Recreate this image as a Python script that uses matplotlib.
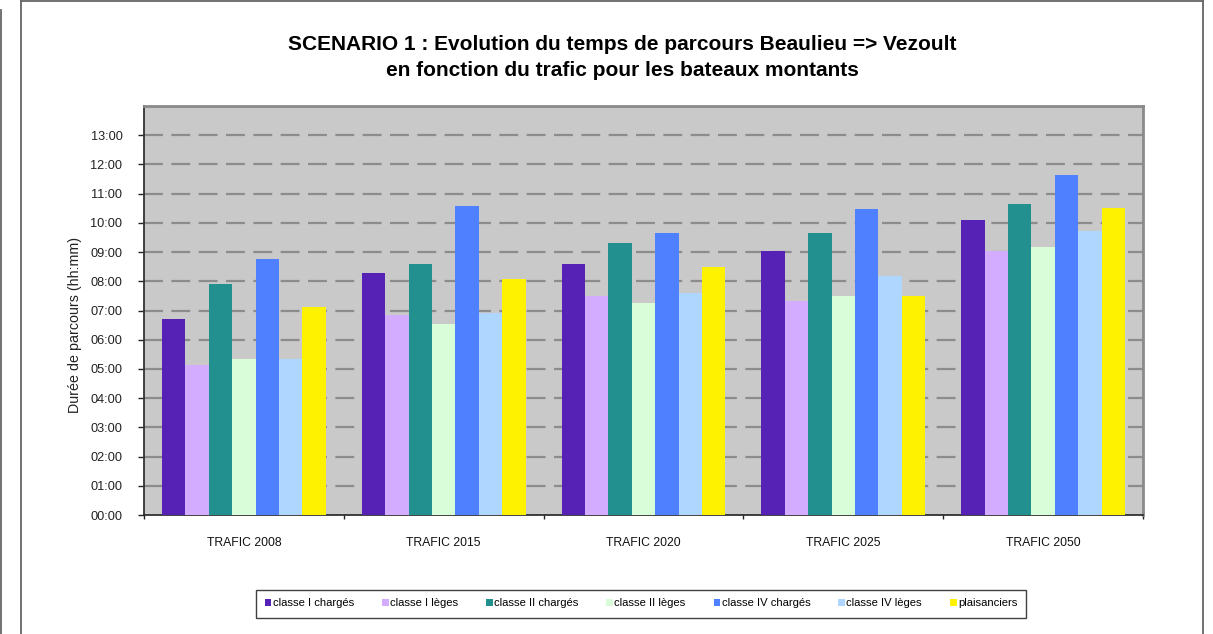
import matplotlib
matplotlib.use("Agg")
import matplotlib.pyplot as plt
from matplotlib.lines import Line2D
from matplotlib.patches import Patch
import numpy as np

plt.rcParams["font.family"] = ["Liberation Sans", "DejaVu Sans"]

categories = ["TRAFIC 2008", "TRAFIC 2015", "TRAFIC 2020", "TRAFIC 2025", "TRAFIC 2050"]
series_names = [
    "classe I chargés", "classe I lèges", "classe II chargés", "classe II lèges",
    "classe IV chargés", "classe IV lèges", "plaisanciers",
]
# durations in hours, one list per series (2008, 2015, 2020, 2025, 2050)
classe_I_charges = [6.72, 8.27, 8.59, 9.02, 10.10]
classe_I_leges = [5.15, 6.84, 7.48, 7.31, 9.03]
classe_II_charges = [7.92, 8.58, 9.30, 9.64, 10.66]
classe_II_leges = [5.33, 6.53, 7.25, 7.49, 9.17]
classe_IV_charges = [8.75, 10.57, 9.65, 10.49, 11.63]
classe_IV_leges = [5.35, 6.92, 7.59, 8.19, 9.73]
plaisanciers = [7.12, 8.09, 8.50, 7.51, 10.51]
hour_ticks = list(range(0, 14))

values = [classe_I_charges, classe_I_leges, classe_II_charges, classe_II_leges,
          classe_IV_charges, classe_IV_leges, plaisanciers]
colors = ["#5522b5", "#d3abff", "#239090", "#d9fcd9", "#4f80ff", "#aed6ff", "#fff200"]

fig = plt.figure(figsize=(12.13, 6.34), dpi=100)
ax = fig.add_axes([144 / 1213, 1 - 515 / 634, 999 / 1213, 409 / 634])
ax.set_facecolor("#c9c9c9")

n = len(values)
width = 0.82 / n
x = np.arange(len(categories))
for i, (vals, col) in enumerate(zip(values, colors)):
    ax.bar(x - 0.41 + width * (i + 0.5), vals, width=width, color=col,
           edgecolor="none", zorder=3, label=series_names[i])

ax.set_xlim(-0.5, len(categories) - 0.5)
ax.set_ylim(0, 14)
ax.set_yticks(hour_ticks)
ax.set_yticklabels([f"{h:02d}:00" for h in hour_ticks], fontsize=9.2, color="#222")
ax.tick_params(axis="y", length=4, width=1, pad=11.5, color="#222")

# category ticks at group boundaries, labels at group centres
ax.set_xticks(np.arange(-0.5, len(categories), 1.0))
ax.set_xticklabels([])
ax.set_xticks(x, minor=True)
ax.set_xticklabels(categories, minor=True, fontsize=8.8, color="#111")
ax.tick_params(axis="x", which="major", length=3, width=1, color="#222")
ax.tick_params(axis="x", which="minor", length=0, pad=16)

for h in hour_ticks[1:]:
    ax.axhline(h, color="#8c8c8c", linewidth=1.6, linestyle=(0, (8.5, 3.8)), zorder=1)

ax.spines["left"].set_color("#333")
ax.spines["left"].set_linewidth(1.3)
ax.spines["bottom"].set_color("#222")
ax.spines["bottom"].set_linewidth(1.2)
for s in ("top", "right"):
    ax.spines[s].set_color("#8a8a8a")
    ax.spines[s].set_linewidth(2)

fig.text(0.513, 1 - 45 / 634, "SCENARIO 1 : Evolution du temps de parcours Beaulieu => Vezoult",
         ha="center", va="center", fontsize=15, fontweight="bold")
fig.text(0.513, 1 - 71 / 634, "en fonction du trafic pour les bateaux montants",
         ha="center", va="center", fontsize=15, fontweight="bold")
fig.text(75 / 1213, 1 - 325 / 634, "Durée de parcours (hh:mm)", rotation=90,
         ha="center", va="center", fontsize=10.3, color="#222")

handles = [Patch(facecolor=c, edgecolor="none") for c in colors]
leg = fig.legend(handles, series_names, loc="center", bbox_to_anchor=(641 / 1213, 1 - 603.5 / 634),
                 ncol=n, fontsize=8.1, frameon=True, fancybox=False, handlelength=0.6,
                 handleheight=0.6, handletextpad=0.1, columnspacing=2.5,
                 borderpad=0.8, borderaxespad=0, edgecolor="#111")
leg.get_frame().set_linewidth(1.0)

# outer chart frame
for xf in (1 / 1213, 21 / 1213, 1203 / 1213):
    fig.add_artist(Line2D([xf, xf], [0, 1 - 1 / 634 if xf > 0.01 else 1 - 10 / 634],
                          color="#666", linewidth=1.3))
fig.add_artist(Line2D([21 / 1213, 1203 / 1213], [1 - 1 / 634, 1 - 1 / 634], color="#666", linewidth=1.3))

fig.savefig("out.png", dpi=100)
